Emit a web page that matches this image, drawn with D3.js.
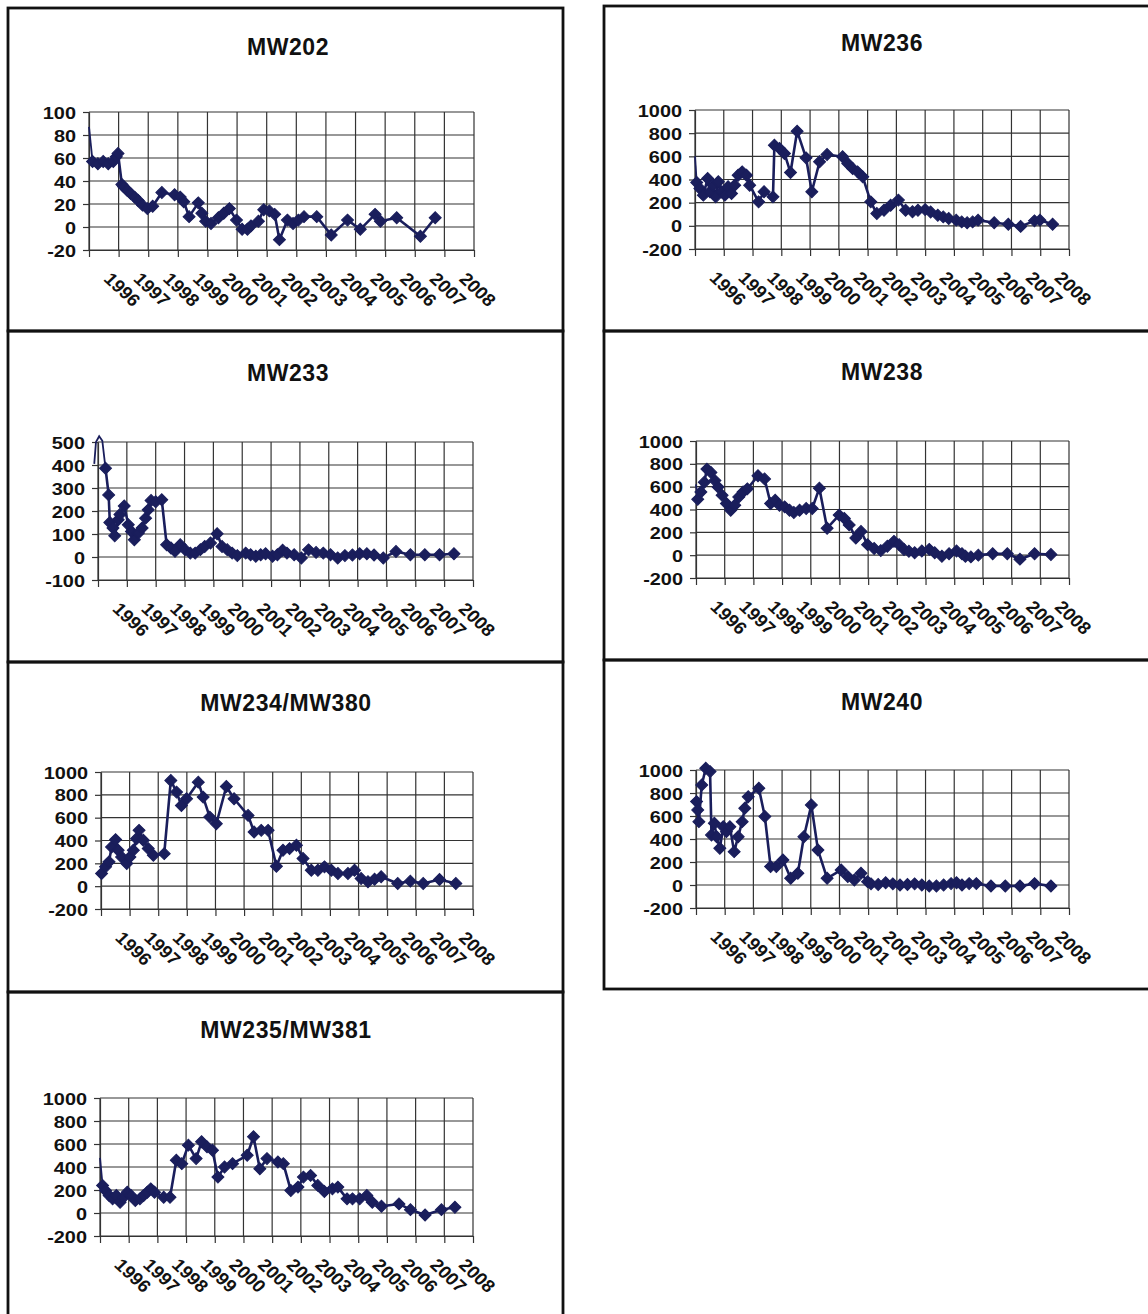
<!DOCTYPE html>
<html>
<head>
<meta charset="utf-8">
<script src="https://cdn.jsdelivr.net/npm/d3@7"></script>
<style>
  html, body { margin: 0; padding: 0; background: #ffffff; }
  svg { display: block; }
</style>
</head>
<body>
<svg id="chart" width="1148" height="1314"></svg>
<script>
// ---------- DATA ----------
const yearLabels = ["1996","1997","1998","1999","2000","2001","2002","2003","2004","2005","2006","2007","2008"];
const panelTitles = ["MW202","MW236","MW233","MW238","MW234/MW380","MW240","MW235/MW381"];

const ticksMW202 = [100, 80, 60, 40, 20, 0, -20];
const ticksK = [1000, 800, 600, 400, 200, 0, -200];
const ticksMW233 = [500, 400, 300, 200, 100, 0, -100];

// MW202
const mw202LeadDates = [1996.0];
const mw202LeadValues = [87];
const mw202Dates = [1996.12,1996.30,1996.48,1996.65,1996.82,1996.92,1996.98,1997.11,1997.17,1997.29,1997.41,1997.54,1997.66,1997.81,1997.97,1998.15,1998.46,1998.89,1999.08,1999.20,1999.38,1999.69,1999.81,1999.94,2000.12,2000.37,2000.55,2000.74,2000.98,2001.17,2001.35,2001.47,2001.72,2001.90,2002.09,2002.27,2002.43,2002.70,2002.89,2003.07,2003.26,2003.69,2004.18,2004.73,2005.16,2005.66,2005.84,2006.39,2007.19,2007.69];
const mw202Values = [57,55,57,55,57,61,64,37,35,32,29,26,23,19,16,18,30,28,26,22,9,21,12,5,3,8,12,16,6,-2,-2,1,5,15,14,11,-11,6,3,6,9,9,-7,6,-2,11,5,8,-8,8];

// MW236
const mw236LeadDates = [1996.0];
const mw236LeadValues = [600];
const mw236Dates = [1996.06,1996.17,1996.29,1996.44,1996.52,1996.63,1996.72,1996.81,1996.92,1997.04,1997.15,1997.27,1997.38,1997.50,1997.64,1997.79,1997.90,1998.21,1998.40,1998.71,1998.76,1998.94,1999.11,1999.32,1999.55,1999.86,2000.06,2000.33,2000.59,2001.13,2001.31,2001.48,2001.65,2001.83,2002.11,2002.32,2002.57,2002.80,2003.07,2003.32,2003.56,2003.75,2004.00,2004.19,2004.44,2004.63,2004.82,2005.08,2005.27,2005.46,2005.65,2005.84,2006.40,2006.89,2007.32,2007.80,2007.99,2008.43];
const mw236Values = [374,322,265,409,294,351,250,380,294,265,337,279,351,437,466,437,351,207,294,250,696,668,625,460,817,587,294,553,616,596,538,495,466,423,207,106,135,178,222,135,121,134,140,120,91,77,63,49,34,26,34,49,26,14,-5,43,49,14];

// MW233
const mw233LeadDates = [1995.87,1995.93,1996.04,1996.15];
const mw233LeadValues = [405,500,525,505];
const mw233Dates = [1996.26,1996.37,1996.41,1996.52,1996.58,1996.70,1996.76,1996.91,1997.05,1997.16,1997.26,1997.40,1997.53,1997.65,1997.74,1997.84,1998.00,1998.21,1998.38,1998.53,1998.67,1998.85,1999.02,1999.20,1999.37,1999.55,1999.70,1999.90,2000.13,2000.30,2000.48,2000.65,2000.83,2001.12,2001.29,2001.47,2001.64,2001.81,2002.05,2002.22,2002.40,2002.55,2002.80,2003.05,2003.30,2003.56,2003.81,2004.06,2004.31,2004.56,2004.82,2005.07,2005.32,2005.57,2005.89,2006.33,2006.83,2007.33,2007.84,2008.34];
const mw233Values = [386,270,150,126,92,162,185,222,140,111,75,104,126,169,205,246,240,249,53,39,25,53,32,17,17,32,46,61,101,46,32,17,6,17,10,3,10,14,3,10,29,17,10,-4,31,20,17,10,-4,6,9,14,14,9,-4,24,10,10,10,14];

// MW238
const mw238LeadDates = [1996.0];
const mw238LeadValues = [620];
const mw238Dates = [1996.06,1996.17,1996.29,1996.38,1996.52,1996.66,1996.77,1996.91,1997.06,1997.21,1997.35,1997.49,1997.64,1997.79,1998.16,1998.39,1998.60,1998.76,1998.91,1999.09,1999.26,1999.41,1999.61,1999.84,2000.05,2000.30,2000.57,2000.99,2001.17,2001.34,2001.57,2001.75,2001.98,2002.21,2002.44,2002.67,2002.90,2003.08,2003.25,2003.42,2003.62,2003.87,2004.13,2004.32,2004.57,2004.82,2005.08,2005.27,2005.39,2005.58,2005.84,2006.34,2006.85,2007.29,2007.80,2008.37];
const mw238Values = [489,553,639,754,725,653,596,524,452,394,437,509,553,581,696,668,452,481,437,423,394,374,394,409,409,587,236,351,322,265,150,207,92,58,40,78,121,92,49,35,21,36,51,21,-9,12,36,12,-9,-15,0,12,12,-35,12,6];

// MW234/MW380
const mw234Dates = [1996.02,1996.16,1996.28,1996.37,1996.51,1996.60,1996.72,1996.90,1997.01,1997.13,1997.24,1997.33,1997.48,1997.65,1997.83,1998.21,1998.44,1998.64,1998.81,1998.99,1999.40,1999.57,1999.80,2000.03,2000.38,2000.65,2001.14,2001.35,2001.60,2001.84,2002.13,2002.36,2002.59,2002.83,2003.06,2003.35,2003.58,2003.81,2004.05,2004.28,2004.63,2004.86,2005.09,2005.33,2005.56,2005.79,2006.37,2006.81,2007.26,2007.83,2008.40];
const mw234Values = [111,169,213,343,408,314,256,198,256,314,416,489,402,329,271,285,926,824,707,766,911,780,605,547,873,766,620,474,489,489,175,314,329,358,242,140,140,169,140,111,111,140,67,38,60,82,24,44,24,59,24];

// MW240
const mw240Dates = [1996.02,1996.06,1996.10,1996.20,1996.34,1996.49,1996.54,1996.64,1996.72,1996.83,1996.95,1997.06,1997.18,1997.33,1997.47,1997.61,1997.70,1997.82,1998.19,1998.40,1998.60,1998.80,1999.03,1999.30,1999.55,1999.76,2000.02,2000.25,2000.57,2001.06,2001.29,2001.52,2001.75,2001.98,2002.10,2002.35,2002.61,2002.86,2003.11,2003.37,2003.62,2003.87,2004.13,2004.38,2004.63,2004.89,2005.08,2005.27,2005.52,2005.77,2006.28,2006.78,2007.29,2007.80,2008.37];
const mw240Values = [725,652,551,870,1015,986,435,537,420,319,507,464,507,290,420,551,667,768,841,595,160,160,218,58,102,420,696,305,58,131,73,44,102,29,10,5,20,10,0,5,10,0,-9,-9,0,12,20,0,12,12,-9,-9,-9,12,-9];

// MW235/MW381
const mw235LeadDates = [1996.0];
const mw235LeadValues = [480];
const mw235Dates = [1996.09,1996.19,1996.32,1996.44,1996.57,1996.70,1996.82,1996.95,1997.08,1997.23,1997.39,1997.52,1997.65,1997.77,1997.90,1998.22,1998.44,1998.66,1998.85,1999.08,1999.35,1999.54,1999.73,1999.92,2000.11,2000.34,2000.62,2001.13,2001.35,2001.57,2001.82,2002.20,2002.39,2002.65,2002.90,2003.09,2003.34,2003.59,2003.82,2004.10,2004.29,2004.61,2004.80,2005.05,2005.30,2005.49,2005.81,2006.42,2006.82,2007.33,2007.90,2008.37];
const mw235Values = [240,196,152,123,152,93,137,181,152,108,123,152,181,210,181,137,137,458,429,590,473,619,575,546,312,400,429,502,663,385,473,444,429,196,225,312,327,240,187,210,225,123,123,123,152,93,58,79,29,-18,29,50];

// ---------- LAYOUT ----------
const panels = [
  { title: panelTitles[0], box: [8, 8, 563, 331],   plot: [89, 112, 474, 250],   titlePos: [288, 55],  ticks: ticksMW202, lead: [mw202LeadDates, mw202LeadValues], dates: mw202Dates, values: mw202Values },
  { title: panelTitles[1], box: [604, 6, 1152, 331], plot: [695, 110, 1069, 249], titlePos: [882, 51],  ticks: ticksK,     lead: [mw236LeadDates, mw236LeadValues], dates: mw236Dates, values: mw236Values },
  { title: panelTitles[2], box: [8, 331, 563, 662], plot: [98, 442, 473, 580],   titlePos: [288, 381], ticks: ticksMW233, lead: [mw233LeadDates, mw233LeadValues], dates: mw233Dates, values: mw233Values },
  { title: panelTitles[3], box: [604, 331, 1152, 660], plot: [696, 441, 1069, 578], titlePos: [882, 380], ticks: ticksK, lead: [mw238LeadDates, mw238LeadValues], dates: mw238Dates, values: mw238Values },
  { title: panelTitles[4], box: [8, 662, 563, 992], plot: [101, 772, 473, 909],  titlePos: [286, 711], ticks: ticksK, lead: null, dates: mw234Dates, values: mw234Values },
  { title: panelTitles[5], box: [604, 660, 1152, 989], plot: [696, 770, 1069, 908], titlePos: [882, 710], ticks: ticksK, lead: null, dates: mw240Dates, values: mw240Values },
  { title: panelTitles[6], box: [8, 992, 563, 1318], plot: [100, 1098, 473, 1236], titlePos: [286, 1038], ticks: ticksK, lead: [mw235LeadDates, mw235LeadValues], dates: mw235Dates, values: mw235Values }
];

const seriesColor = "#1a1e5c";
const gridColor = "#333333";
const fontFamily = "'Liberation Sans', Arial, Helvetica, sans-serif";

const svg = d3.select("#chart");
svg.append("rect").attr("width", 1148).attr("height", 1314).attr("fill", "#ffffff");

const gridYears = d3.range(1996, 2010);

panels.forEach(p => {
  const [bx0, by0, bx1, by1] = p.box;
  const [l, t, r, b] = p.plot;
  const g = svg.append("g");

  // panel frame
  g.append("rect")
    .attr("x", bx0).attr("y", by0)
    .attr("width", bx1 - bx0).attr("height", by1 - by0)
    .attr("fill", "none").attr("stroke", "#111").attr("stroke-width", 2.8);

  // title
  g.append("text")
    .attr("x", p.titlePos[0]).attr("y", p.titlePos[1])
    .attr("text-anchor", "middle")
    .attr("font-family", fontFamily)
    .attr("font-weight", "bold")
    .attr("font-size", 23)
    .attr("letter-spacing", 0.6)
    .attr("fill", "#111")
    .text(p.title);

  const x = d3.scaleLinear().domain([1996, 2009]).range([l, r]);
  const yMin = d3.min(p.ticks), yMax = d3.max(p.ticks);
  const y = d3.scaleLinear().domain([yMin, yMax]).range([b, t]);

  // plot background
  g.append("rect").attr("x", l).attr("y", t).attr("width", r - l).attr("height", b - t).attr("fill", "#fff");

  // horizontal gridlines
  g.append("g").selectAll("line").data(p.ticks).join("line")
    .attr("x1", l).attr("x2", r)
    .attr("y1", d => y(d)).attr("y2", d => y(d))
    .attr("stroke", gridColor).attr("stroke-width", 1.2);

  // vertical gridlines
  g.append("g").selectAll("line").data(gridYears).join("line")
    .attr("x1", d => x(d)).attr("x2", d => x(d))
    .attr("y1", t).attr("y2", b)
    .attr("stroke", gridColor).attr("stroke-width", 1.2);

  // y axis (ticks + labels)
  const yAxis = g.append("g").attr("transform", `translate(${l},0)`)
    .call(d3.axisLeft(y).tickValues(p.ticks).tickSize(6).tickSizeOuter(0).tickFormat(d3.format("d")));
  yAxis.select(".domain").attr("stroke", gridColor).attr("stroke-width", 1.2);
  yAxis.selectAll(".tick line").attr("stroke", gridColor).attr("stroke-width", 1.2);
  yAxis.selectAll(".tick text")
    .attr("x", null).attr("dy", null)
    .attr("transform", "translate(-13,6) scale(1.17,1)")
    .attr("text-anchor", "end")
    .attr("font-family", fontFamily)
    .attr("font-weight", "bold")
    .attr("font-size", 17)
    .attr("fill", "#111")
    .text(d => d < 0 ? "-" + Math.abs(d) : d);

  // x axis (tick marks at year boundaries)
  const xAxis = g.append("g").attr("transform", `translate(0,${b})`)
    .call(d3.axisBottom(x).tickValues(gridYears).tickSize(7).tickSizeOuter(0).tickFormat(""));
  xAxis.select(".domain").attr("stroke", gridColor).attr("stroke-width", 1.2);
  xAxis.selectAll(".tick line").attr("stroke", gridColor).attr("stroke-width", 1.2);

  // year labels centred in each year, rotated
  g.append("g").selectAll("text").data(yearLabels).join("text")
    .attr("transform", d => `translate(${x(+d + 0.5) - 1},${b + 30}) scale(1.08,1) rotate(45)`)
    .attr("text-anchor", "start")
    .attr("font-family", fontFamily)
    .attr("font-weight", "bold")
    .attr("font-size", 17.5)
    .attr("fill", "#111")
    .text(d => d);

  // series
  const pts = p.dates.map((d, i) => [d, p.values[i]]);
  const leadPts = p.lead ? p.lead[0].map((d, i) => [d, p.lead[1][i]]) : [];
  const line = d3.line().x(d => x(d[0])).y(d => y(d[1]));

  if (leadPts.length) {
    g.append("path").datum(leadPts.concat([pts[0]]))
      .attr("d", line).attr("fill", "none")
      .attr("stroke", seriesColor).attr("stroke-width", 1.8);
  }
  g.append("path").datum(pts)
    .attr("d", line).attr("fill", "none")
    .attr("stroke", seriesColor).attr("stroke-width", 2.6)
    .attr("stroke-linejoin", "round");

  const diamond = d3.symbol(d3.symbolSquare, 72);
  g.append("g").selectAll("path").data(pts).join("path")
    .attr("d", diamond)
    .attr("transform", d => `translate(${x(d[0])},${y(d[1])}) rotate(45)`)
    .attr("fill", seriesColor)
    .attr("stroke", seriesColor).attr("stroke-width", 1);
});
</script>
</body>
</html>
